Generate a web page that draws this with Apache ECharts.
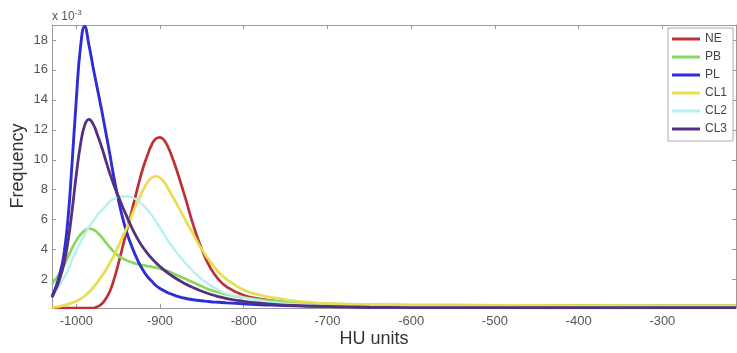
<!DOCTYPE html>
<html><head><meta charset="utf-8">
<script src="https://cdn.jsdelivr.net/npm/echarts@6/dist/echarts.min.js"></script>
<style>html,body{margin:0;padding:0;background:#fff}#c{width:737px;height:353px}</style>
</head><body><div id="c"></div>
<script>
// HU sample positions (x axis)
const hu = [-1029,-1025,-1020,-1015,-1010,-1005,-1000,-995,-990,-985,-980,-975,-970,-965,-960,-955,-950,-945,-940,-935,-930,-925,-920,-915,-910,-905,-900,-895,-890,-885,-880,-870,-860,-850,-840,-830,-820,-800,-780,-760,-740,-720,-700,-650,-600,-500,-400,-300,-212];
// Frequency values (x 10^-3)
const NE  = [0.1,0.1,0.1,0.1,0.1,0.1,0.1,0.1,0.1,0.1,0.1,0.18,0.35,0.7,1.2,2.0,3.0,4.1,5.2,6.3,7.4,8.5,9.5,10.3,11.0,11.4,11.5,11.3,10.8,10.1,9.3,7.5,5.6,4.0,2.8,2.0,1.5,0.95,0.7,0.55,0.42,0.33,0.27,0.18,0.14,0.12,0.11,0.11,0.11];
const PB  = [1.7,2.0,2.4,2.9,3.5,4.1,4.6,5.0,5.25,5.4,5.35,5.15,4.85,4.5,4.15,3.85,3.6,3.42,3.28,3.17,3.08,3.0,2.95,2.9,2.85,2.8,2.73,2.65,2.55,2.43,2.3,2.05,1.8,1.55,1.3,1.15,1.0,0.8,0.65,0.55,0.48,0.42,0.38,0.32,0.3,0.28,0.27,0.26,0.26];
const PL  = [0.9,1.4,2.3,3.6,6.0,9.8,14.0,17.5,18.9,17.7,16.2,14.8,13.4,11.9,10.4,8.8,7.4,6.2,5.2,4.4,3.7,3.1,2.6,2.2,1.9,1.6,1.4,1.25,1.1,1.0,0.9,0.75,0.65,0.58,0.52,0.48,0.44,0.38,0.32,0.28,0.25,0.22,0.2,0.16,0.14,0.13,0.13,0.13,0.13];
const CL1 = [0.1,0.15,0.2,0.28,0.35,0.45,0.55,0.7,0.9,1.15,1.45,1.8,2.2,2.6,3.1,3.6,4.2,4.8,5.4,6.1,6.8,7.4,8.0,8.5,8.8,8.9,8.8,8.5,8.05,7.55,7.05,6.0,5.0,4.0,3.2,2.5,2.0,1.3,0.95,0.75,0.58,0.47,0.4,0.33,0.3,0.28,0.26,0.25,0.25];
const CL2 = [0.8,1.2,1.6,2.1,2.6,3.3,3.9,4.5,5.0,5.5,5.9,6.3,6.6,6.9,7.2,7.4,7.5,7.55,7.55,7.5,7.4,7.2,6.95,6.65,6.3,5.9,5.45,5.0,4.57,4.17,3.8,3.12,2.52,2.02,1.62,1.3,1.05,0.8,0.6,0.45,0.35,0.28,0.24,0.18,0.15,0.13,0.12,0.12,0.12];
const CL3 = [0.8,1.3,2.0,3.0,4.5,6.6,9.0,11.0,12.3,12.7,12.4,11.7,10.9,10.0,9.1,8.3,7.6,6.9,6.25,5.62,5.05,4.55,4.12,3.75,3.42,3.13,2.87,2.63,2.42,2.22,2.04,1.72,1.45,1.22,1.02,0.86,0.73,0.55,0.42,0.33,0.27,0.23,0.2,0.15,0.13,0.12,0.12,0.12,0.12];
const names = ['NE','PB','PL','CL1','CL2','CL3'];
const xTicks = [-1000,-900,-800,-700,-600,-500,-400,-300];
const yTicks = [2,4,6,8,10,12,14,16,18];

const colors = {NE:'#bf2f38',PB:'#88d860',PL:'#2e2ed6',CL1:'#e8de4c',CL2:'#b6f0f0',CL3:'#55307f'};
const widths = {NE:2.7,PB:2.7,PL:2.9,CL1:2.7,CL2:2.3,CL3:2.8};
const values = {NE,PB,PL,CL1,CL2,CL3};
const font = '"Liberation Sans", Arial, sans-serif';
const axisCol = '#9a9a9a';

function xAx(pos, showLabel){
  return {type:'value', min:-1029, max:-212, position:pos,
    axisLine:{show:true, onZero:false, lineStyle:{color:axisCol,width:1}},
    axisTick:{show:true, inside:true, length:4, customValues:xTicks, lineStyle:{color:axisCol}},
    axisLabel:{show:showLabel, customValues:xTicks, formatter:v=>String(v), color:'#555', fontSize:13, margin:7, fontFamily:font},
    splitLine:{show:false}};
}
function yAx(pos, showLabel){
  return {type:'value', min:0.1, max:19, position:pos,
    axisLine:{show:true, onZero:false, lineStyle:{color:axisCol,width:1}},
    axisTick:{show:true, inside:true, length:4, customValues:yTicks, lineStyle:{color:axisCol}},
    axisLabel:{show:showLabel, customValues:yTicks, formatter:v=>String(v), color:'#555', fontSize:13, margin:4, fontFamily:font},
    splitLine:{show:false}};
}

const chart = echarts.init(document.getElementById('c'), null, {renderer:'canvas'});
chart.setOption({
  animation:false,
  backgroundColor:'#fff',
  grid:{left:52, right:1, top:25, bottom:45},
  xAxis:[xAx('bottom',true), xAx('top',false)],
  yAxis:[yAx('left',true), yAx('right',false)],
  legend:{orient:'vertical', left:668, top:28, itemWidth:28, itemHeight:3, itemGap:0, icon:'rect',
    padding:[2,6,3,4], borderColor:'#aaa', borderWidth:1, backgroundColor:'#fff',
    textStyle:{fontSize:12, lineHeight:18, color:'#444', fontFamily:font},
    data:names},
  graphic:[
    {type:'text', x:18, y:166, rotation:Math.PI/2, style:{text:'Frequency', align:'center', verticalAlign:'middle', font:'18px '+font, fill:'#333'}},
    {type:'text', x:374, y:339, style:{text:'HU units', align:'center', verticalAlign:'middle', font:'18px '+font, fill:'#333'}},
    {type:'text', x:52, y:17, style:{text:'x 10{s|-3}', align:'left', verticalAlign:'middle', font:'12px '+font, fill:'#555',
      rich:{s:{fontSize:8, fill:'#555', padding:[0,0,8,0]}}}}
  ],
  series: names.map(n => ({
    name:n, type:'line', xAxisIndex:0, yAxisIndex:0,
    data: hu.map((x,i)=>[x, values[n][i]]),
    showSymbol:false, smooth:0.5,
    lineStyle:{color:colors[n], width:widths[n]},
    itemStyle:{color:colors[n]}
  }))
});
</script></body></html>
